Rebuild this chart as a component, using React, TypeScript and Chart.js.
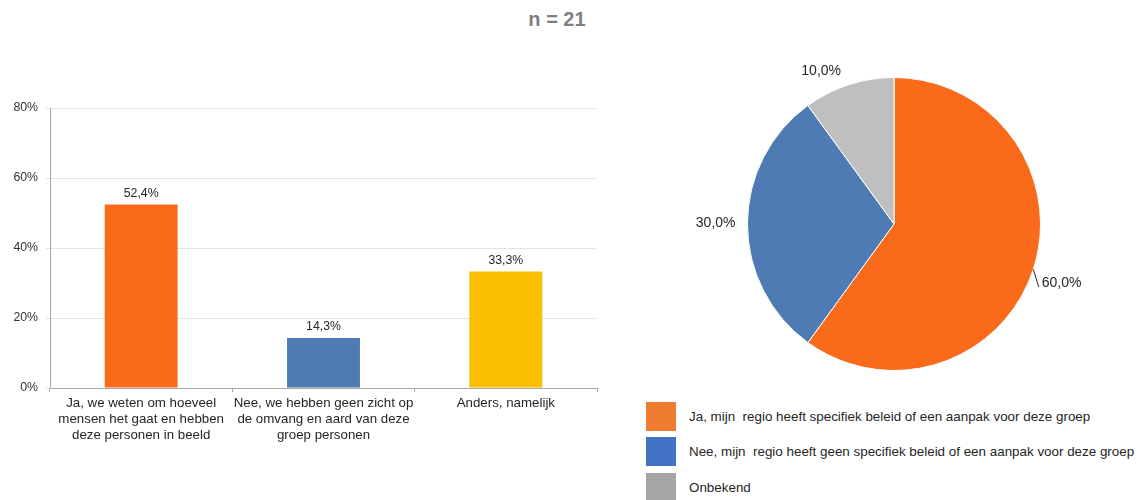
import React, { useEffect, useRef } from "react";
import { Chart, registerables } from "chart.js";

Chart.register(...registerables);

const FONT = "'Liberation Sans', Arial, sans-serif";

// ---- Bar chart data ----
const barCategories: string[][] = [
  ["Ja, we weten om hoeveel", "mensen het gaat en hebben", "deze personen in beeld"],
  ["Nee, we hebben geen zicht op", "de omvang en aard van deze", "groep personen"],
  ["Anders, namelijk"],
];
const barValues: number[] = [52.4, 14.3, 33.3];
const barColors: string[] = ["#F96A1B", "#4F7BB4", "#F9BF00"];
const yMin = 0;
const yMax = 80;
const yStep = 20;

// ---- Pie chart data ----
const pieLabels: string[] = [
  "Ja, mijn  regio heeft specifiek beleid of een aanpak voor deze groep",
  "Nee, mijn  regio heeft geen specifiek beleid of een aanpak voor deze groep",
  "Onbekend",
];
const pieValues: number[] = [60, 30, 10];
const pieColors: string[] = ["#F96A1B", "#4F7BB4", "#BFBFBF"];
const legendColors: string[] = ["#ED7D31", "#4472C4", "#A5A5A5"];
const sampleText = "n = 21";

const fmt = (v: number) => v.toFixed(1).replace(".", ",") + "%";

const barLabelPlugin = {
  id: "barLabels",
  afterDatasetsDraw(chart: any) {
    const ctx = chart.ctx;
    const meta = chart.getDatasetMeta(0);
    ctx.save();
    ctx.font = `12.3px ${FONT}`;
    ctx.fillStyle = "#262626";
    ctx.textAlign = "center";
    ctx.textBaseline = "bottom";
    meta.data.forEach((el: any, i: number) => {
      ctx.fillText(fmt(barValues[i]), el.x, el.y - 5);
    });
    ctx.restore();
  },
};

// label placement tweaks (style), per slice: nudge and optional leader line
const pieLabelNudges = [
  { dx: -3, dy: 10, leader: true },
  { dx: 0, dy: -1, leader: false },
  { dx: -4, dy: -2, leader: false },
];

const pieLabelPlugin = {
  id: "pieLabels",
  afterDatasetsDraw(chart: any) {
    const ctx = chart.ctx;
    const meta = chart.getDatasetMeta(0);
    ctx.save();
    ctx.font = `14px ${FONT}`;
    ctx.fillStyle = "#262626";
    ctx.textBaseline = "middle";
    meta.data.forEach((arc: any, i: number) => {
      const mid = (arc.startAngle + arc.endAngle) / 2;
      const r = arc.outerRadius;
      const c = Math.cos(mid);
      const s = Math.sin(mid);
      const n = pieLabelNudges[i] || { dx: 0, dy: 0, leader: false };
      const ax = arc.x + c * (r + 12) + n.dx;
      const ay = arc.y + s * (r + 12) + n.dy;
      ctx.textAlign = c >= 0 ? "left" : "right";
      ctx.fillText(fmt(pieValues[i]), ax, ay);
      if (n.leader) {
        ctx.strokeStyle = "#262626";
        ctx.lineWidth = 1;
        ctx.beginPath();
        ctx.moveTo(arc.x + c * r, arc.y + s * r);
        ctx.lineTo(ax - 3, ay + 4);
        ctx.stroke();
      }
    });
    ctx.restore();
  },
};

export default function App() {
  const barRef = useRef<HTMLCanvasElement>(null);
  const pieRef = useRef<HTMLCanvasElement>(null);

  useEffect(() => {
    const bar = new Chart(barRef.current!, {
      type: "bar",
      data: {
        labels: barCategories,
        datasets: [
          {
            data: barValues,
            backgroundColor: barColors,
            barPercentage: 0.8,
            categoryPercentage: 0.5,
          },
        ],
      },
      options: {
        responsive: false,
        maintainAspectRatio: false,
        animation: false,
        layout: { padding: { top: 18, right: 23, left: 0, bottom: 0 } },
        plugins: { legend: { display: false }, tooltip: { enabled: false } },
        scales: {
          x: {
            afterFit: (scale: any) => {
              scale.height = 72;
            },
            grid: {
              display: true,
              drawOnChartArea: false,
              drawTicks: true,
              tickLength: 4,
              color: "#a6a6a6",
              offset: true,
            },
            border: { display: true, color: "#a6a6a6" },
            ticks: {
              autoSkip: false,
              maxRotation: 0,
              minRotation: 0,
              padding: 4,
              color: "#262626",
              font: { family: FONT, size: 13.3, lineHeight: 1.17 },
            },
          },
          y: {
            min: yMin,
            max: yMax,
            afterFit: (scale: any) => {
              scale.width = 50;
            },
            grid: { color: "#e4e4e4", drawTicks: true, tickLength: 4 },
            border: { display: true, color: "#a6a6a6" },
            ticks: {
              stepSize: yStep,
              padding: 8,
              color: "#333333",
              font: { family: FONT, size: 12.3 },
              callback: (v: any) => v + "%",
            },
          },
        },
      },
      plugins: [barLabelPlugin],
    } as any);

    const pie = new Chart(pieRef.current!, {
      type: "pie",
      data: {
        labels: pieLabels,
        datasets: [
          {
            data: pieValues,
            backgroundColor: pieColors,
            borderColor: "#ffffff",
            borderWidth: 1,
          },
        ],
      },
      options: {
        responsive: false,
        maintainAspectRatio: false,
        animation: false,
        layout: { padding: { left: 127, right: 96, top: 37, bottom: 29 } },
        plugins: { legend: { display: false }, tooltip: { enabled: false } },
      },
      plugins: [pieLabelPlugin],
    } as any);

    return () => {
      bar.destroy();
      pie.destroy();
    };
  }, []);

  const legendTops = [402, 437, 473];

  return (
    <div
      style={{
        position: "absolute",
        left: 0,
        top: 0,
        width: 1137,
        height: 500,
        background: "#fff",
        overflow: "hidden",
        fontFamily: FONT,
      }}
    >
      <div
        style={{
          position: "absolute",
          left: 457,
          width: 200,
          top: 7,
          textAlign: "center",
          fontWeight: "bold",
          fontSize: 20,
          lineHeight: "24px",
          color: "#7f7f7f",
        }}
      >
        {sampleText}
      </div>
      <canvas
        ref={barRef}
        width={620}
        height={370}
        style={{ position: "absolute", left: 0, top: 90, width: 620, height: 370, display: "block" }}
      />
      <canvas
        ref={pieRef}
        width={517}
        height={360}
        style={{ position: "absolute", left: 620, top: 40, width: 517, height: 360, display: "block" }}
      />
      {pieLabels.map((label, i) => (
        <div key={i}>
          <div
            style={{
              position: "absolute",
              left: 646,
              top: legendTops[i],
              width: 30,
              height: 29,
              background: legendColors[i],
            }}
          />
          <div
            style={{
              position: "absolute",
              left: 689,
              top: legendTops[i] + 6,
              height: 17,
              lineHeight: "17px",
              fontSize: 13.4,
              color: "#262626",
              whiteSpace: "pre",
            }}
          >
            {label}
          </div>
        </div>
      ))}
    </div>
  );
}
